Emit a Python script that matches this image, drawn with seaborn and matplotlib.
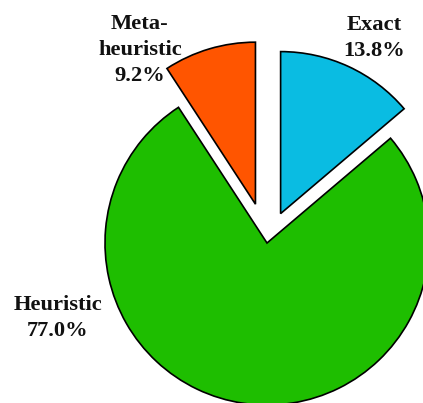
import matplotlib
matplotlib.use("Agg")
import matplotlib.pyplot as plt
import seaborn as sns

# Share of solution approaches (percent)
categories = ["Exact", "Heuristic", "Meta-heuristic"]
shares = [13.8, 77.0, 9.2]
label_names = ["Exact", "Heuristic", "Meta-\nheuristic"]
colors = ["#0ABCE2", "#1EBE00", "#FF5500"]
explode = [0.20, 0.0, 0.25]

sns.set_theme(style="white")
plt.rcParams["font.family"] = ["Liberation Serif", "DejaVu Serif"]

W, H, DPI = 423, 403, 100
fig = plt.figure(figsize=(W / DPI, H / DPI), dpi=DPI)
ax = fig.add_axes([0, 0, 1, 1])

ax.pie(shares, colors=colors, explode=explode, startangle=90,
       counterclock=False, radius=1.0,
       wedgeprops=dict(edgecolor="black", linewidth=1.2))

# pie centre at pixel (267, 243), radius 162 px
cx, cy, r = 267, 243, 162
ax.set_xlim((0 - cx) / r, (W - cx) / r)
ax.set_ylim((cy - H) / r, (cy - 0) / r)
ax.set_aspect("auto")
ax.axis("off")

# label anchors in pixel space (centre of each text block)
label_px = {"Exact": (374, 38), "Heuristic": (58, 318), "Meta-heuristic": (140, 50)}
for name, lab, val in zip(categories, label_names, shares):
    px, py = label_px[name]
    fig.text(px / W, 1 - py / H, f"{lab}\n{val:.1f}%", ha="center", va="center",
             fontsize=16.2, fontweight="bold", color="#111111", linespacing=1.4)

fig.savefig("out.png", dpi=DPI, facecolor="white")
